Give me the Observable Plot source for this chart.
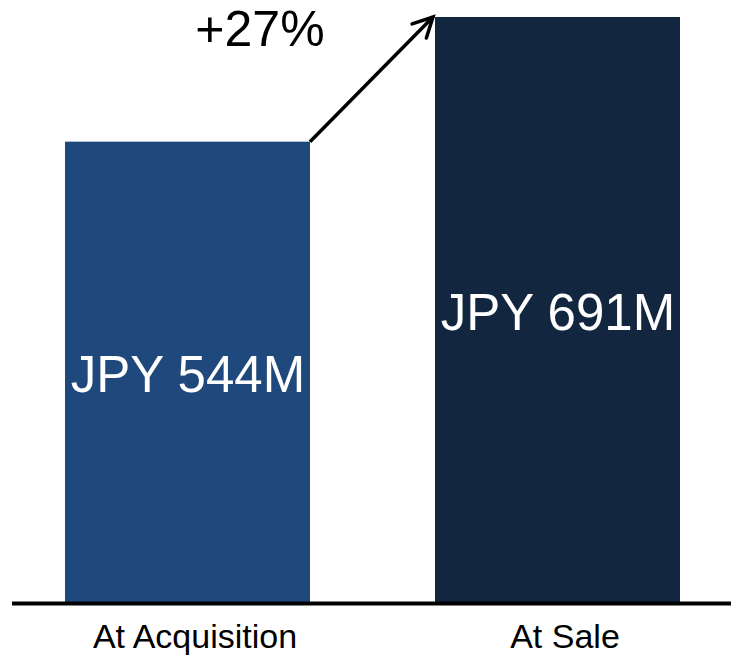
<!DOCTYPE html>
<html>
<head>
<meta charset="utf-8">
<script src="https://cdn.jsdelivr.net/npm/d3@7"></script>
<script src="https://cdn.jsdelivr.net/npm/@observablehq/plot@0.6"></script>
<style>
  html, body { margin: 0; padding: 0; background: #fff; }
  #chart { width: 731px; height: 656px; }
</style>
</head>
<body>
<div id="chart"></div>
<script>
const categories = ["At Acquisition", "At Sale"];
const values = [544, 691];
const valueLabels = ["JPY 544M", "JPY 691M"];
const barColors = ["#1F497C", "#13263F"];
const changeLabel = ["+27%"];

const data = categories.map((c, i) => ({category: c, value: values[i], label: valueLabels[i], color: barColors[i]}));

const chart = Plot.plot({
  width: 731,
  height: 656,
  marginLeft: 12,
  marginRight: 0,
  marginTop: 0,
  marginBottom: 53,
  style: {fontFamily: "Arial, 'Liberation Sans', sans-serif", background: "#fff", overflow: "visible"},
  x: {domain: categories, range: [65, 680], paddingInner: 0.338, paddingOuter: 0},
  y: {domain: [0, 691], range: [603, 17], axis: null},
  marks: [
    Plot.barY(data, {x: "category", y: "value", fill: "color"}),
    Plot.ruleY([0], {stroke: "#000", strokeWidth: 4}),
    Plot.text(data, {x: "category", y: d => d.value / 2, text: "label", fill: "#fff", fontSize: 51, dy: 3, lineAnchor: "middle"}),
    Plot.text(changeLabel, {x: () => categories[0], y: () => values[1], text: d => d, fill: "#000", fontSize: 50, dx: 72, dy: 12, lineAnchor: "middle"}),
    Plot.axisX({tickSize: 0, tickPadding: 20, fontSize: 34, label: null, fill: "#000", dx: 7})
  ]
});
document.getElementById("chart").appendChild(chart);

// Arrow from the top-right corner of the first bar to the top-left corner of the second bar
const xs = chart.scale("x");
const ys = chart.scale("y");
const x1 = xs.apply(categories[0]) + xs.bandwidth;
const y1 = ys.apply(values[0]);
const x2 = xs.apply(categories[1]) - 2;
const y2 = ys.apply(values[1]);
const ang = Math.atan2(y2 - y1, x2 - x1);
const head = 22, spread = 27 * Math.PI / 180;
const ax = x2 - head * Math.cos(ang - spread), ay = y2 - head * Math.sin(ang - spread);
const bx = x2 - head * Math.cos(ang + spread), by = y2 - head * Math.sin(ang + spread);
const g = d3.select(chart).append("g").attr("fill", "none").attr("stroke", "#000").attr("stroke-width", 3.5);
g.append("path").attr("d", `M${x1},${y1}L${x2},${y2}`);
g.append("path").attr("d", `M${ax},${ay}L${x2},${y2}L${bx},${by}`).attr("stroke-linejoin", "miter").attr("stroke-linecap", "round");
</script>
</body>
</html>
